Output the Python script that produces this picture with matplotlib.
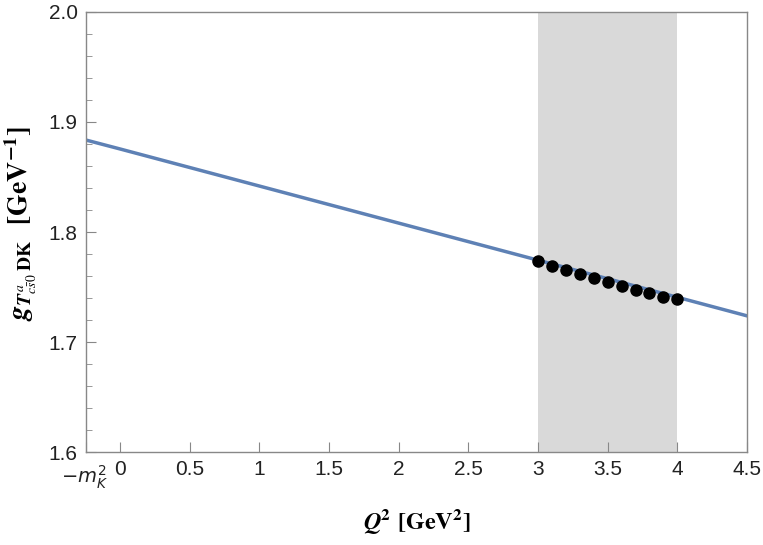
import numpy as np
import matplotlib
matplotlib.use("Agg")
import matplotlib.pyplot as plt
from matplotlib.ticker import MultipleLocator

plt.rcParams['font.family'] = ['Liberation Sans', 'DejaVu Sans']
plt.rcParams['mathtext.fontset'] = 'stix'

# fit curve (straight line)
q2_line = [-0.244, 0.0, 1.0, 2.0, 3.0, 4.0, 4.5]
g_line = [1.8836, 1.8755, 1.8418, 1.8081, 1.7744, 1.7407, 1.7238]

# computed points in the window
q2_pts = [3.0, 3.1, 3.2, 3.3, 3.4, 3.5, 3.6, 3.7, 3.8, 3.9, 4.0]
g_pts = [1.7735, 1.7695, 1.7655, 1.7615, 1.7578, 1.7542, 1.7507, 1.7474, 1.7442, 1.7412, 1.7395]

band = (3.0, 4.0)
mK2 = 0.244

x_ticks = [-mK2, 0, 0.5, 1, 1.5, 2, 2.5, 3, 3.5, 4, 4.5]
x_labels = ['', '0', '0.5', '1', '1.5', '2', '2.5', '3', '3.5', '4', '4.5']
y_ticks = [1.6, 1.7, 1.8, 1.9, 2.0]

fig = plt.figure(figsize=(7.63, 5.45), dpi=100)
ax = fig.add_axes([0.1127, 0.1706, 0.8663, 0.8074])

ax.axvspan(band[0], band[1], color='#d9d9d9', lw=0, zorder=0)
ax.plot(q2_line, g_line, color='#5e81b5', lw=2.5, zorder=2)
ax.plot(q2_pts, g_pts, 'o', color='black', ms=8, zorder=3)

ax.set_xlim(-mK2, 4.5)
ax.set_ylim(1.6, 2.0)
ax.set_xticks(x_ticks)
ax.set_xticklabels(x_labels)
ax.set_yticks(y_ticks)
ax.set_yticklabels(['%.1f' % v for v in y_ticks])
ax.yaxis.set_minor_locator(MultipleLocator(0.02))

ax.tick_params(which='both', direction='in', top=False, right=False,
               labelsize=15, color='#888888', labelcolor='#222222', pad=6)
ax.tick_params(which='major', length=7)
ax.tick_params(which='minor', length=4)
for s in ax.spines.values():
    s.set_color('#888888')
    s.set_linewidth(1.0)

# the -m_K^2 label is sans italic in the original, sitting under the left corner
ax.annotate(r'$-m_K^2$', xy=(-mK2, 0), xycoords=('data', 'axes fraction'),
            xytext=(-1, -8), textcoords='offset points', ha='center', va='top',
            fontsize=14, color='#222222', math_fontfamily='dejavusans')

ax.set_xlabel(r'$\mathbfit{Q}^{\mathbf{2}}$ $\mathbf{[GeV^{2}]}$', fontsize=17.5, labelpad=20)
ax.set_ylabel(r'$\mathbfit{g}_{\mathbfit{T}^{\,a}_{c\bar{s}0}\;\mathbf{DK}}$  $\mathbf{[GeV^{-1}]}$',
              fontsize=20, va='center')
ax.yaxis.set_label_coords(-0.098, 0.52)

fig.savefig('out.png', dpi=100)
